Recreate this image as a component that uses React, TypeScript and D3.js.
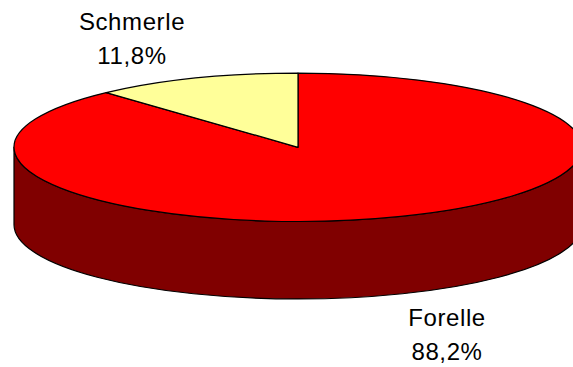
import React from "react";
import * as d3 from "d3";

const categories = ["Forelle", "Schmerle"];
const values = [88.2, 11.8];
const valueLabels = ["88,2%", "11,8%"];

const W = 573;
const H = 367;
const cx = 298;
const cy = 147.3;
const rx = 284;
const ry = 74.2;
const depth = 77.5;

const topColors = ["#FF0000", "#FFFF99"];
const sideColors = ["#800000", "#808040"];

function pt(a: number, dy = 0): [number, number] {
  return [cx + rx * Math.sin(a), cy - ry * Math.cos(a) + dy];
}

export default function App() {
  const pie = d3
    .pie<number>()
    .sort(null)
    .value((d) => d);
  const arcs = pie(values);

  const slicePath = (a0: number, a1: number) => {
    const [x0, y0] = pt(a0);
    const [x1, y1] = pt(a1);
    const large = a1 - a0 > Math.PI ? 1 : 0;
    return `M${cx},${cy}L${x0},${y0}A${rx},${ry} 0 ${large} 1 ${x1},${y1}Z`;
  };

  const sidePath = (a0: number, a1: number) => {
    const s = Math.max(a0, Math.PI / 2);
    const e = Math.min(a1, (3 * Math.PI) / 2);
    if (e <= s) return null;
    const [x0, y0] = pt(s);
    const [x1, y1] = pt(e);
    return `M${x0},${y0}A${rx},${ry} 0 0 1 ${x1},${y1}L${x1},${y1 + depth}A${rx},${ry} 0 0 0 ${x0},${y0 + depth}Z`;
  };

  const labelPos = [
    { x: 447, y: 326 },
    { x: 132, y: 30 },
  ];

  return (
    <svg
      width={W}
      height={H}
      style={{ position: "absolute", left: 0, top: 0, background: "#fff" }}
    >
      {arcs.map((a, i) => {
        const p = sidePath(a.startAngle, a.endAngle);
        return p ? (
          <path key={"s" + i} d={p} fill={sideColors[i]} stroke="#000" strokeWidth={1.2} strokeLinejoin="round" />
        ) : null;
      })}
      {arcs.map((a, i) => (
        <path
          key={"t" + i}
          d={slicePath(a.startAngle, a.endAngle)}
          fill={topColors[i]}
          stroke="#000"
          strokeWidth={1.2}
          strokeLinejoin="round"
        />
      ))}
      {categories.map((c, i) => (
        <text
          key={"l" + i}
          x={labelPos[i].x}
          y={labelPos[i].y}
          textAnchor="middle"
          fontFamily="Liberation Sans, Arial, sans-serif"
          fontSize={24}
          letterSpacing={0.6}
          fill="#000"
        >
          <tspan x={labelPos[i].x}>{c}</tspan>
          <tspan x={labelPos[i].x} dy={34}>
            {valueLabels[i]}
          </tspan>
        </text>
      ))}
    </svg>
  );
}
